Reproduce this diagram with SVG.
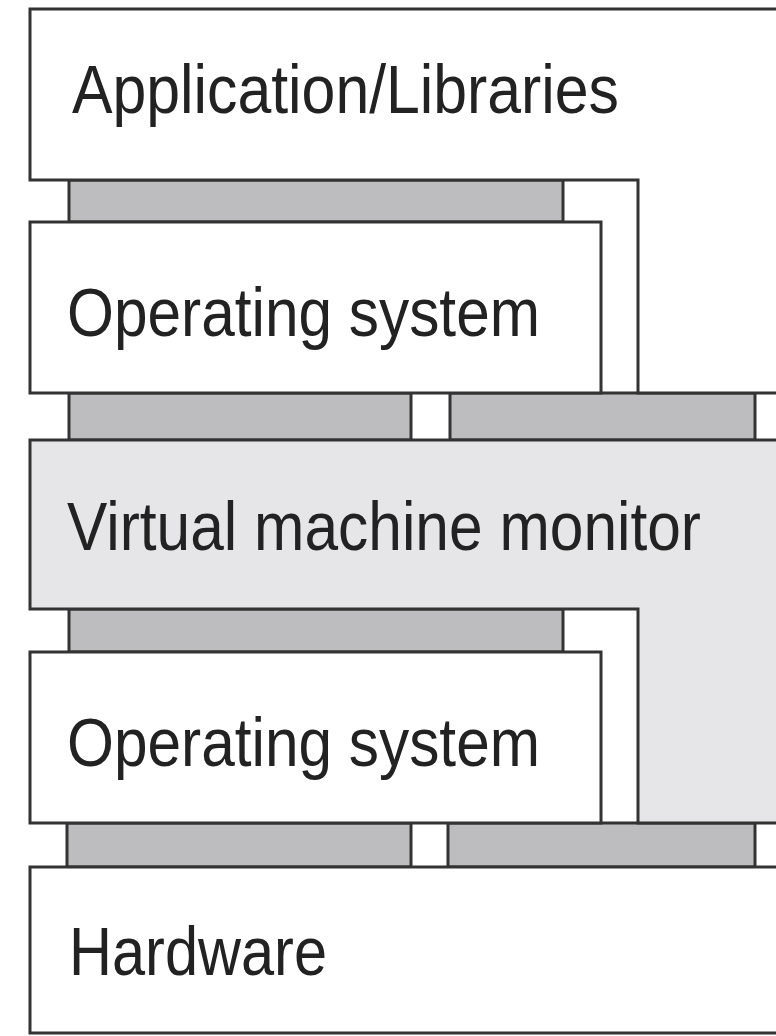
<svg xmlns="http://www.w3.org/2000/svg" width="776" height="1036" viewBox="0 0 776 1036">
<style>
.box{fill:#ffffff;stroke:#333333;stroke-width:3;stroke-linejoin:miter}
.fillw{fill:#ffffff;stroke:none}
.fillv{fill:#e6e6e8;stroke:none}
.edge{fill:none;stroke:#333333;stroke-width:3;stroke-linejoin:miter}
.bar{fill:#bdbdbf;stroke:#333333;stroke-width:3}
.lbl{font-family:"Liberation Sans",Arial,sans-serif;font-size:68px;fill:#222222}
</style>
<rect width="776" height="1036" fill="#ffffff"/>
<g id="connectors">
<rect class="bar" x="69" y="180" width="494" height="42"/>
<rect class="bar" x="69" y="393" width="342" height="47"/>
<rect class="bar" x="450" y="393" width="305" height="47"/>
<rect class="bar" x="69" y="609" width="494" height="43"/>
<rect class="bar" x="67" y="823" width="344" height="44"/>
<rect class="bar" x="448" y="823" width="307" height="44"/>
</g>
<g id="app">
<polygon class="fillw" points="30,9 776,9 776,393 638,393 638,180 30,180"/>
<polyline class="edge" points="776,9 30,9 30,180 638,180 638,393 776,393"/>
<text class="lbl" x="72" y="113" textLength="547" lengthAdjust="spacingAndGlyphs">Application/Libraries</text>
</g>
<g id="os1">
<rect class="box" x="30" y="222" width="571" height="171"/>
<text class="lbl" x="67" y="336" textLength="473" lengthAdjust="spacingAndGlyphs">Operating system</text>
</g>
<g id="vmm">
<polygon class="fillv" points="30,440 776,440 776,823 638,823 638,609 30,609"/>
<polyline class="edge" points="776,440 30,440 30,609 638,609 638,823 776,823"/>
<text class="lbl" x="67" y="550" textLength="634" lengthAdjust="spacingAndGlyphs">Virtual machine monitor</text>
</g>
<g id="os2">
<rect class="box" x="30" y="652" width="571" height="171"/>
<text class="lbl" x="67" y="766" textLength="473" lengthAdjust="spacingAndGlyphs">Operating system</text>
</g>
<g id="hardware">
<rect class="fillw" x="30" y="867" width="746" height="166"/>
<polyline class="edge" points="776,867 30,867 30,1033 776,1033"/>
<text class="lbl" x="69" y="975" textLength="258" lengthAdjust="spacingAndGlyphs">Hardware</text>
</g>
</svg>
